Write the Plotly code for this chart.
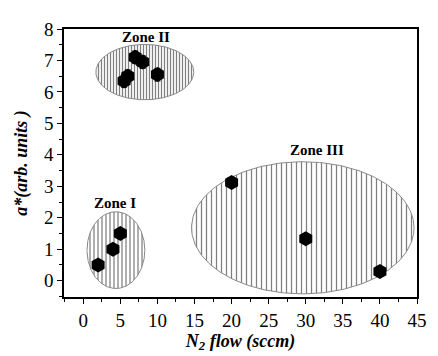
import numpy as np
import plotly.graph_objects as go

# data points
n2_flow = [2, 4, 5, 5.5, 6, 7, 8, 10, 20, 30, 40]
a_star = [0.5, 1.0, 1.5, 6.35, 6.5, 7.1, 6.95, 6.55, 3.12, 1.33, 0.29]
a_err = [0, 0, 0, 0.2, 0.2, 0.2, 0.2, 0.2, 0, 0, 0]

# zone ellipses: name, center x, center y, radius x, radius y
zone_names = ["Zone I", "Zone II", "Zone III"]
zone_cx = [4.4, 8.3, 29.6]
zone_cy = [0.97, 6.63, 1.68]
zone_rx = [3.9, 6.6, 15.0]
zone_ry = [1.22, 0.88, 2.1]
zone_label_x = [4.3, 8.5, 31.5]
zone_label_y = [2.47, 7.75, 4.14]
zone_hatch = [4, 3, 5]

x_ticks = [0, 5, 10, 15, 20, 25, 30, 35, 40, 45]
y_ticks = [0, 1, 2, 3, 4, 5, 6, 7, 8]

SERIF = "Liberation Serif, Times New Roman, serif"

fig = go.Figure()
t = np.linspace(0, 2 * np.pi, 240)
for i in range(3):
    ex = zone_cx[i] + zone_rx[i] * np.cos(t)
    ey = zone_cy[i] + zone_ry[i] * np.sin(t)
    fig.add_trace(go.Scatter(
        x=ex, y=ey, mode="lines", fill="toself",
        fillcolor="white",
        fillpattern=dict(shape="|", size=zone_hatch[i], solidity=1.25 / zone_hatch[i],
                         fgcolor="black", bgcolor="white"),
        line=dict(color="#888888", width=1),
        hoverinfo="skip", showlegend=False))

fig.add_trace(go.Scatter(
    x=n2_flow, y=a_star, mode="markers",
    marker=dict(symbol="hexagon", size=15, color="black"),
    error_y=dict(type="data", array=a_err, color="black", thickness=1, width=3),
    showlegend=False))

for i in range(3):
    fig.add_annotation(x=zone_label_x[i], y=zone_label_y[i], text="<b>%s</b>" % zone_names[i],
                       showarrow=False, font=dict(family=SERIF, size=15, color="black"))

axis_common = dict(showgrid=False, zeroline=False, showline=True, linecolor="black",
                   linewidth=1.5, mirror=True, ticks="outside", ticklen=5,
                   tickcolor="black",
                   tickfont=dict(family=SERIF, size=19, color="black"))

fig.update_xaxes(range=[-2.6, 45], tickvals=x_ticks,
                 minor=dict(dtick=2.5, ticks="outside", ticklen=3, tickcolor="black"),
                 title=dict(text="<b><i>N<sub>2</sub> flow (sccm)</i></b>",
                            font=dict(family=SERIF, size=18, color="black"),
                            standoff=2),
                 **axis_common)
fig.update_yaxes(range=[-0.52, 8], tickvals=y_ticks,
                 minor=dict(dtick=0.5, ticks="outside", ticklen=3, tickcolor="black"),
                 title=dict(text="<b><i>a*(arb. units )</i></b>",
                            font=dict(family=SERIF, size=18, color="black"),
                            standoff=12),
                 **axis_common)

# the page body adds an 8px offset; compensate so the plot area lands where the reference has it
fig.update_layout(width=430, height=348, margin=dict(l=54, r=11, t=11, b=51),
                  plot_bgcolor="white", paper_bgcolor="white")
fig.write_html("out.html")
